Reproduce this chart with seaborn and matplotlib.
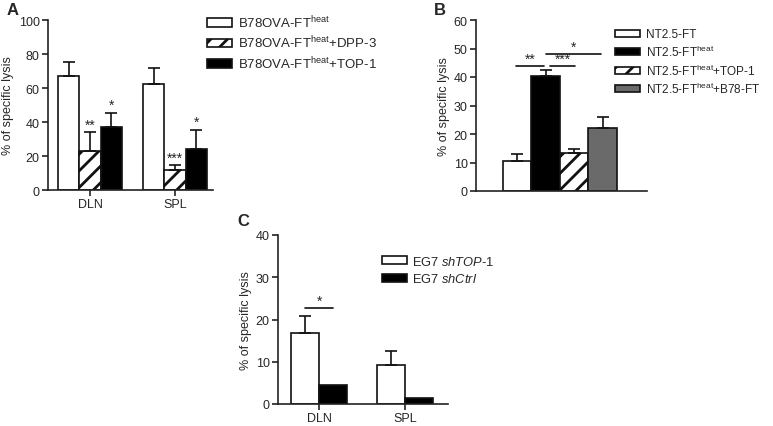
import matplotlib
matplotlib.use("Agg")
import matplotlib.pyplot as plt
from matplotlib.container import BarContainer
import seaborn as sns
import pandas as pd
import numpy as np

# ---------------- data ----------------
a_sites = ["DLN", "SPL"]
a_groups = ["B78OVA-FT$^{heat}$", "B78OVA-FT$^{heat}$+DPP-3", "B78OVA-FT$^{heat}$+TOP-1"]
a_means = {"DLN": [67, 23, 37], "SPL": [62.5, 12, 24]}
a_errs = {"DLN": [8.5, 11, 8.5], "SPL": [9, 2.5, 11.5]}
a_stars = {"DLN": ["", "**", "*"], "SPL": ["", "***", "*"]}

b_groups = ["NT2.5-FT", "NT2.5-FT$^{heat}$", "NT2.5-FT$^{heat}$+TOP-1", "NT2.5-FT$^{heat}$+B78-FT"]
b_means = [10.5, 40.3, 13.5, 22]
b_errs = [2.5, 2.2, 1.2, 4]

c_sites = ["DLN", "SPL"]
c_groups = ["EG7 $\\mathit{shTOP}$-$\\mathit{1}$", "EG7 $\\mathit{shCtrl}$"]
c_means = {"DLN": [16.7, 4.5], "SPL": [9.2, 1.4]}
c_errs = {"DLN": [4.1, 0], "SPL": [3.4, 0]}

# ---------------- style ----------------
sns.set_theme(style="ticks")
plt.rcParams["font.family"] = ["Liberation Sans", "DejaVu Sans"]
plt.rcParams["mathtext.fontset"] = "custom"
plt.rcParams["mathtext.rm"] = "Liberation Sans"
plt.rcParams["mathtext.it"] = "Liberation Sans:italic"
plt.rcParams["mathtext.default"] = "regular"
plt.rcParams["hatch.linewidth"] = 2.0
plt.rcParams["hatch.color"] = "black"

FS = 9
SFS = 10
LW = 1.2

fig = plt.figure(figsize=(7.73, 4.27), dpi=100)
W, H = 773, 427


def add_axes(l, r, b, t):
    return fig.add_axes([l / W, 1 - b / H, (r - l) / W, (b - t) / H])


def bars_of(ax):
    return [c for c in ax.containers if isinstance(c, BarContainer)]


def style_axes(ax, ymax, ystep):
    ax.set_ylim(0, ymax)
    ax.set_yticks(np.arange(0, ymax + 0.01, ystep))
    for s in ["top", "right"]:
        ax.spines[s].set_visible(False)
    for s in ["left", "bottom"]:
        ax.spines[s].set_linewidth(LW)
        ax.spines[s].set_color("#222222")
    ax.tick_params(axis="both", direction="out", length=4, width=LW, labelsize=FS,
                   color="#222222", pad=2)
    ax.set_ylabel("% of specific lysis", fontsize=FS, labelpad=3)
    ax.set_xlabel("")


fills = {"white": "white", "hatch": "white", "black": "black", "gray": "#6a6a6a"}


def style_patch(p, kind):
    p.set_facecolor(fills[kind])
    p.set_edgecolor("#111111")
    p.set_linewidth(LW)
    if kind == "hatch":
        p.set_hatch("//")


def errbar(ax, p, mean, err):
    if err <= 0:
        return
    x = p.get_x() + p.get_width() / 2
    ax.errorbar([x], [mean], yerr=[[0], [err]], fmt="none", ecolor="#111111",
                elinewidth=LW, capsize=4.5, capthick=LW, zorder=1)


def legend(ax, handles, labels, loc, fs, hl_px, pad_px, spacing, hh=0.6):
    ax.legend(handles=handles, labels=labels, loc="upper left", bbox_to_anchor=loc,
              bbox_transform=fig.transFigure, frameon=False, fontsize=fs,
              handlelength=hl_px / 1.389 / fs, handleheight=hh,
              handletextpad=pad_px / 1.389 / fs,
              labelspacing=spacing, borderaxespad=0, borderpad=0)


def sig(ax, x0, x1, y, txt):
    ax.plot([x0, x1], [y, y], color="#111111", lw=LW, clip_on=False)
    ax.text((x0 + x1) / 2, y + 0.1, txt, ha="center", va="bottom", fontsize=SFS)


# ---------------- Panel A ----------------
axA = add_axes(48, 213, 191, 21)
dfA = pd.DataFrame([(s, g, a_means[s][i]) for s in a_sites for i, g in enumerate(a_groups)],
                   columns=["site", "group", "value"])
sns.barplot(data=dfA, x="site", y="value", hue="group", order=a_sites, hue_order=a_groups,
            errorbar=None, width=0.75, gap=0, ax=axA, legend=False)
kindsA = ["white", "hatch", "black"]
contsA = bars_of(axA)
handlesA = []
for gi, cont in enumerate(contsA):
    for si, p in enumerate(cont.patches):
        style_patch(p, kindsA[gi])
        s = a_sites[si]
        m, e = a_means[s][gi], a_errs[s][gi]
        errbar(axA, p, m, e)
        star = a_stars[s][gi]
        if star:
            axA.text(p.get_x() + p.get_width() / 2, m + e + 0.5, star, ha="center",
                     va="bottom", fontsize=SFS)
    handlesA.append(cont.patches[0])
style_axes(axA, 100, 20)
axA.set_xlim(-0.494, 1.447)
legend(axA, handlesA, a_groups, (207 / W, 1 - 14.5 / H), 9.5, 25, 6, 0.3)

# ---------------- Panel B ----------------
axB = add_axes(476, 647, 192, 21)
dfB = pd.DataFrame({"group": b_groups, "value": b_means})
sns.barplot(data=dfB, x="group", y="value", hue="group", order=b_groups, hue_order=b_groups,
            errorbar=None, width=1.0, dodge=False, ax=axB, legend=False)
kindsB = ["white", "black", "hatch", "gray"]
patchesB = sorted([p for c in bars_of(axB) for p in c.patches], key=lambda p: p.get_x())
for i, p in enumerate(patchesB):
    style_patch(p, kindsB[i])
    errbar(axB, p, b_means[i], b_errs[i])
centers = [p.get_x() + p.get_width() / 2 for p in patchesB]
sig(axB, centers[0] - 0.05, centers[1] - 0.05, 43.7, "**")
sig(axB, centers[1] + 0.15, centers[2] + 0.05, 43.7, "***")
sig(axB, centers[1] + 0.0, centers[3] - 0.05, 48.2, "*")
style_axes(axB, 60, 10)
axB.set_xlim(-1.44, 4.56)
axB.set_xticks([])
legend(axB, patchesB, b_groups, (615 / W, 1 - 29.5 / H), 8.5, 25, 6, 0.28, hh=0.55)

# ---------------- Panel C ----------------
axC = add_axes(278, 448, 405, 236)
dfC = pd.DataFrame([(s, g, c_means[s][i]) for s in c_sites for i, g in enumerate(c_groups)],
                   columns=["site", "group", "value"])
sns.barplot(data=dfC, x="site", y="value", hue="group", order=c_sites, hue_order=c_groups,
            errorbar=None, width=0.655, gap=0, ax=axC, legend=False)
kindsC = ["white", "black"]
contsC = bars_of(axC)
handlesC = []
for gi, cont in enumerate(contsC):
    for si, p in enumerate(cont.patches):
        style_patch(p, kindsC[gi])
        s = c_sites[si]
        errbar(axC, p, c_means[s][gi], c_errs[s][gi])
    handlesC.append(cont.patches[0])
style_axes(axC, 40, 10)
axC.set_xlim(-0.485, 1.503)
pc = [p.get_x() + p.get_width() / 2 for p in contsC[0].patches]
pk = [p.get_x() + p.get_width() / 2 for p in contsC[1].patches]
sig(axC, pc[0], pk[0], 22.7, "*")
legend(axC, handlesC, c_groups, (382 / W, 1 - 255.5 / H), 9.3, 25, 5, 0.38)

# ---------------- panel letters ----------------
fig.text(7 / W, 1 - 3 / H, "A", fontsize=12, fontweight="bold", va="top", ha="left")
fig.text(434 / W, 1 - 3 / H, "B", fontsize=12, fontweight="bold", va="top", ha="left")
fig.text(237 / W, 1 - 214 / H, "C", fontsize=12, fontweight="bold", va="top", ha="left")

fig.savefig("out.png", dpi=100)
